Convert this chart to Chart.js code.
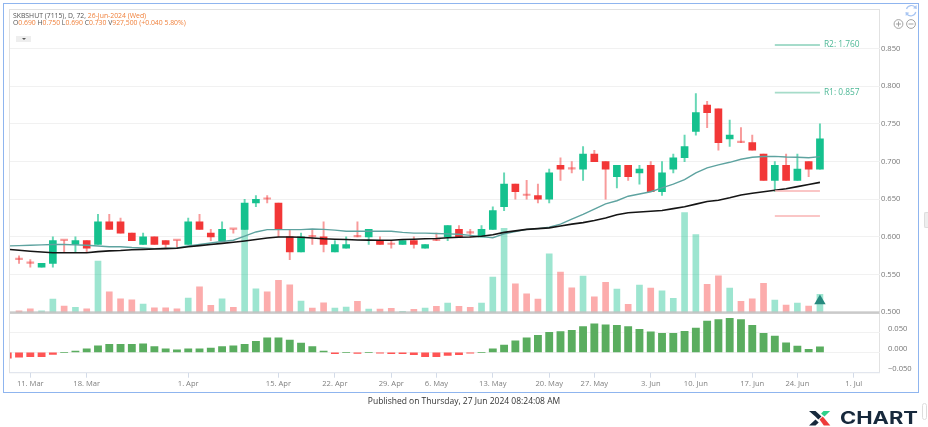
<!DOCTYPE html>
<html><head><meta charset="utf-8">
<script src="https://cdn.jsdelivr.net/npm/chart.js@4"></script>
<style>
html,body{margin:0;padding:0;background:#fff;width:928px;height:427px;overflow:hidden;font-family:"Open Sans",sans-serif}
#wrap{position:relative;width:928px;height:427px}
canvas{position:absolute;left:0;top:0}
#frame{position:absolute;left:3px;top:3px;width:914px;height:388px;border:1px solid #8fb5ef;pointer-events:none}
.t{position:absolute;white-space:nowrap}
#h1,#h2{left:13px;font-size:6.85px;line-height:8px;color:#555}
#h1{top:11.5px}#h2{top:18.5px}
.o{color:#f0813c}
#btn{position:absolute;left:16px;top:36px;width:15px;height:6px;background:#eee}
#btn:after{content:"";position:absolute;left:5.5px;top:2px;border:2.2px solid transparent;border-top:2.6px solid #555;border-bottom:0}
#pub{left:268px;width:392px;text-align:center;top:395px;font-size:8.5px;line-height:12px;color:#333}
svg{position:absolute;left:0;top:0}
#p1{position:absolute;left:924px;top:212px;width:4px;height:16px;background:#eee;border:1px solid #ddd;border-right:0;border-radius:2px 0 0 2px;box-sizing:border-box}
#p2{position:absolute;left:922px;top:403px;width:5px;height:17px;border:1px solid #ddd;border-radius:3px;box-sizing:border-box}
</style></head>
<body><div id="wrap">
<canvas id="c" width="928" height="427"></canvas>
<div id="frame"></div>
<div class="t" id="h1">SKBSHUT (7115), D, 72, <span class="o">26-Jun-2024 (Wed)</span></div>
<div class="t" id="h2">O<span class="o">0.690</span> H<span class="o">0.750</span> L<span class="o">0.690</span> C<span class="o">0.730</span> V<span class="o">927,500 (+0.040 5.80%)</span></div>
<div id="btn"></div>
<div class="t" id="pub">Published on Thursday, 27 Jun 2024 08:24:08 AM</div>
<div id="p1"></div><div id="p2"></div>
<svg width="928" height="427">
 <g fill="none" stroke="#a9c6f2" stroke-width="1.2">
  <path d="M906.5 9 A5.2 5.2 0 0 1 915.5 7.5"/><path d="M915.8 12 A5.2 5.2 0 0 1 906.8 14"/>
 </g>
 <path d="M916.5 5 L916.8 9 L913 8.2Z M905.8 16 L905.5 12 L909.3 12.8Z" fill="#a9c6f2"/>
 <g fill="none" stroke="#999" stroke-width="0.9">
  <circle cx="898.5" cy="24" r="4.4"/><path d="M896 24h5M898.5 21.5v5"/>
  <circle cx="911" cy="24" r="4.4"/><path d="M908.5 24h5"/>
 </g>
 <path d="M809 411h6.5l6 5.6-3.2 3-3-3z M809 425.6l6.5-6 3.2 3-3.2 3z" fill="#17293c"/>
 <path d="M823.5 411h6.7l-5.8 5.5-3.3-3z" fill="#2fd08a"/>
 <path d="M819.5 419.4l3.3-3 7.5 9.2h-6.5z" fill="#ee3b3b"/>
 <text x="840" y="424" font-family="Inter" font-weight="700" font-size="17" textLength="78" lengthAdjust="spacingAndGlyphs" fill="#17293c">CHART</text>
</svg>
</div>
<script>
// first trading bar (index 1) is 8 Mar 2024; index 72 is 26 Jun 2024
const opens=[null,.57,.565,.56,.565,.595,.59,.595,.59,.62,.62,.605,.59,.6,.595,.595,.59,.62,.605,.595,.61,.61,.645,.65,.645,.6,.58,.6,.6,.58,.585,.6,.6,.595,.59,.59,.595,.585,.595,.6,.61,.605,.6,.61,.64,.67,.655,.655,.65,.695,.69,.69,.71,.7,.68,.695,.685,.695,.66,.69,.705,.74,.775,.77,.73,.725,.725,.71,.675,.695,.675,.7,.69];
const closes=[null,.57,.565,.565,.595,.595,.595,.585,.62,.61,.605,.595,.6,.59,.59,.595,.62,.61,.6,.61,.61,.645,.65,.65,.61,.58,.6,.6,.59,.59,.59,.6,.61,.59,.59,.595,.59,.59,.595,.615,.6,.605,.61,.635,.67,.66,.655,.65,.685,.69,.69,.71,.7,.69,.695,.68,.69,.66,.685,.705,.72,.765,.765,.725,.735,.725,.715,.675,.695,.675,.69,.69,.73];
const highs=[null,.575,.57,.565,.6,.595,.6,.595,.63,.63,.625,.605,.605,.6,.595,.595,.625,.63,.61,.62,.61,.65,.655,.655,.645,.61,.605,.61,.62,.595,.6,.62,.61,.6,.595,.595,.6,.59,.605,.615,.615,.61,.615,.64,.685,.67,.675,.67,.69,.705,.7,.72,.715,.7,.695,.695,.695,.7,.7,.71,.735,.79,.78,.77,.755,.745,.735,.71,.7,.71,.71,.7,.75];
const lows=[null,.565,.56,.56,.56,.58,.58,.58,.59,.61,.605,.595,.59,.59,.585,.585,.59,.61,.595,.595,.605,.61,.64,.645,.6,.57,.58,.59,.58,.58,.585,.6,.59,.59,.585,.59,.585,.585,.595,.595,.6,.6,.6,.61,.635,.65,.65,.645,.645,.675,.685,.675,.7,.65,.665,.675,.67,.66,.655,.685,.7,.735,.745,.715,.72,.725,.715,.675,.66,.675,.675,.68,.69];
const volumes=[null,86,190,86,687,326,258,190,2644,1065,704,652,429,240,240,190,738,1322,360,704,258,4400,1219,1065,1648,1425,584,223,498,223,275,567,172,172,206,52,155,223,309,481,309,258,481,1820,4326,1477,961,687,3013,2078,1270,1872,807,1545,1202,412,1408,1253,1116,721,5140,4007,1442,1889,1253,567,704,1494,635,378,481,326,927.5];
const macdHist=[-.014,-.012,-.0105,-.0105,-.005,0,.003,.009,.016,.02,.0195,.0195,.021,.014,.009,.0065,.009,.009,.0105,.014,.016,.0195,.027,.036,.036,.03,.023,.014,.003,-.003,0,-.0025,0,-.002,-.003,-.003,-.0055,-.0105,-.0105,-.0075,-.0055,-.002,0,.009,.018,.0285,.036,.042,.0495,.051,.0545,.0635,.07,.068,.0667,.0634,.057,.0504,.047,.047,.052,.06,.077,.0805,.0837,.0805,.0667,.047,.04,.0236,.0154,.0073,.0138];
const maFast=[.588,.5885,.589,.5895,.59,.59,.5895,.589,.588,.587,.587,.586,.5855,.5845,.585,.5855,.588,.59,.592,.594,.5956,.601,.6066,.6097,.6097,.6097,.6097,.6106,.61,.609,.6075,.6075,.6075,.6075,.6075,.606,.605,.605,.6045,.604,.6035,.602,.6004,.599,.604,.607,.61,.611,.6128,.617,.6235,.63,.637,.6438,.648,.654,.657,.66,.665,.67,.676,.685,.6917,.6956,.699,.703,.7057,.7066,.7068,.706,.7057,.705,.7066];
const maSlow=[.5836,.5823,.581,.58,.579,.579,.579,.579,.5805,.5815,.582,.583,.5835,.584,.5845,.585,.587,.5885,.59,.5915,.593,.5947,.5965,.5985,.6,.6,.5995,.5985,.5975,.597,.5965,.596,.5958,.5956,.5956,.5965,.597,.5975,.598,.599,.5995,.6,.601,.603,.606,.608,.61,.611,.612,.6145,.617,.619,.6217,.625,.6295,.632,.633,.634,.635,.6375,.64,.6435,.647,.6487,.652,.6557,.658,.66,.662,.664,.6667,.6695,.6724];
const tickIndex=[2,7,16,24,29,34,38,43,48,52,57,61,66,70,75];
const tickLabels=['11. Mar','18. Mar','1. Apr','15. Apr','22. Apr','29. Apr','6. May','13. May','20. May','27. May','3. Jun','10. Jun','17. Jun','24. Jun','1. Jul'];
const priceTicks=[.5,.55,.6,.65,.7,.75,.8,.85];
const macdTicks=[-.05,0,.05];
const pivotLevels=[
 {name:'R2',shown:'1.760',y:.8546,color:'#4db896',width:1},
 {name:'R1',shown:'0.857',y:.7914,color:'#a6dcc9',width:1.6},
 {name:'S1',shown:'',y:.661,color:'#f9b3b3',width:1.4},
 {name:'S2',shown:'',y:.6278,color:'#f9b3b3',width:1.6}];
const pivotFrom=68,pivotTo=72;
const signalIndex=72,signalPrice=.515;

const GREEN='#15c18e',RED='#f23737',GW='rgba(21,193,142,.65)',RW='rgba(242,55,55,.5)';
const isUp=i=>closes[i]>opens[i];
const idx=macdHist.map((_,i)=>i);
const cand=idx.filter(i=>opens[i]!==null);
const datasets=[
 {type:'bar',label:'Volume',yAxisID:'yVol',order:10,grouped:false,barThickness:6,
  data:cand.map(i=>({x:i,y:volumes[i]})),
  backgroundColor:cand.map(i=>isUp(i)?'rgba(21,193,142,.42)':'rgba(250,90,90,.5)')},
 {type:'bar',label:'Wick',yAxisID:'y',order:5,grouped:false,barThickness:1.3,
  data:cand.map(i=>({x:i,y:[lows[i],highs[i]]})),
  backgroundColor:cand.map(i=>isUp(i)?GW:RW)},
 {type:'bar',label:'Body',yAxisID:'y',order:4,grouped:false,barThickness:7,minBarLength:1.5,
  data:cand.map(i=>({x:i,y:[opens[i],closes[i]]})),
  backgroundColor:cand.map(i=>isUp(i)?GREEN:(opens[i]===closes[i]?RW:RED))},
 {type:'line',label:'MA fast',yAxisID:'y',order:2,data:idx.map(i=>({x:i,y:maFast[i]})),borderColor:'#5ea3a0',borderWidth:1.4,pointRadius:0,tension:0},
 {type:'line',label:'MA slow',yAxisID:'y',order:1,data:idx.map(i=>({x:i,y:maSlow[i]})),borderColor:'#151515',borderWidth:1.6,pointRadius:0,tension:0},
 {type:'bar',label:'MACD',yAxisID:'yMacd',order:3,grouped:false,barThickness:7.2,
  data:idx.map(i=>({x:i,y:macdHist[i]})),
  backgroundColor:idx.map(i=>macdHist[i]>=0?'#5aad5f':'#ff5454')},
 ...pivotLevels.map(p=>({type:'line',label:p.name,yAxisID:'y',order:0,
   data:[{x:pivotFrom,y:p.y},{x:pivotTo,y:p.y}],borderColor:p.color,borderWidth:p.width,pointRadius:0})),
 {type:'line',label:'Signal',yAxisID:'y',order:0,showLine:false,data:[{x:signalIndex,y:signalPrice}],
  pointStyle:'triangle',pointRadius:6.6,pointBackgroundColor:'#26897e',pointBorderWidth:0}
];
const panelPlugin={id:'panel',
 beforeDraw(ch){const a=ch.chartArea,c=ch.ctx;c.save();c.strokeStyle='#e2e2e2';c.lineWidth=1;
  c.strokeRect(a.left-.5,a.top,a.right-a.left+.5,a.bottom-a.top);c.restore();},
 afterDatasetsDraw(ch){const a=ch.chartArea,c=ch.ctx,y=ch.scales.y.getPixelForValue(.5);
  c.save();c.fillStyle='rgba(195,195,195,.85)';c.fillRect(a.left,y-1,a.right-a.left,2.6);
  c.font='8.4px "Open Sans"';c.fillStyle='#4db896';c.textBaseline='middle';
  const x=ch.scales.x.getPixelForValue(pivotTo)+4;
  pivotLevels.filter(p=>p.shown).forEach(p=>c.fillText(p.name+': '+p.shown,x,ch.scales.y.getPixelForValue(p.y)-.5));
  c.restore();}
};
const tickFont={family:'"Open Sans"',size:7.6};
const noPad=a=>{a.width=40;a.paddingTop=0;a.paddingBottom=0;};
new Chart(document.getElementById('c'),{
 data:{datasets},
 plugins:[panelPlugin],
 options:{responsive:false,animation:false,devicePixelRatio:1,events:[],
  layout:{padding:{left:10,top:9.5,right:8.5,bottom:34.3}},
  plugins:{legend:{display:false},tooltip:{enabled:false}},
  scales:{
   x:{type:'linear',min:.2,max:77.28,offset:false,
    grid:{offset:false,drawOnChartArea:false,drawTicks:true,tickLength:5,color:'#d3dbe8'},
    border:{color:'#e2e6ee',width:1},
    afterBuildTicks:a=>{a.ticks=tickIndex.map(v=>({value:v}));},
    afterFit:a=>{a.height=20;a.paddingLeft=0;a.paddingRight=0;},
    ticks:{autoSkip:false,maxRotation:0,padding:2,color:'#808080',font:tickFont,callback:v=>tickLabels[tickIndex.indexOf(v)]}},
   y:{type:'linear',position:'right',stack:'p',stackWeight:305,weight:1,min:.4971,max:.9017,
    grid:{color:'#f1f1f1',drawTicks:false},border:{display:false},
    afterBuildTicks:a=>{a.ticks=priceTicks.map(v=>({value:v}));},
    afterFit:noPad,
    ticks:{autoSkip:false,padding:1.5,color:'#777',font:tickFont,callback:v=>v.toFixed(3)}},
   yMacd:{type:'linear',position:'right',stack:'p',stackWeight:58.2,weight:2,min:-.05,max:.0932,
    grid:{color:'#f1f1f1',drawTicks:false},border:{display:false},
    afterBuildTicks:a=>{a.ticks=macdTicks.map(v=>({value:v}));},
    afterFit:noPad,
    ticks:{autoSkip:false,padding:8.5,color:'#777',font:{...tickFont,lineHeight:'7px'},callback:v=>[v.toFixed(3).replace('-','\u2212'),' ']}},
   yVol:{type:'linear',position:'right',display:false,min:-3105,max:15599}
  }}
});
</script>
</body></html>
